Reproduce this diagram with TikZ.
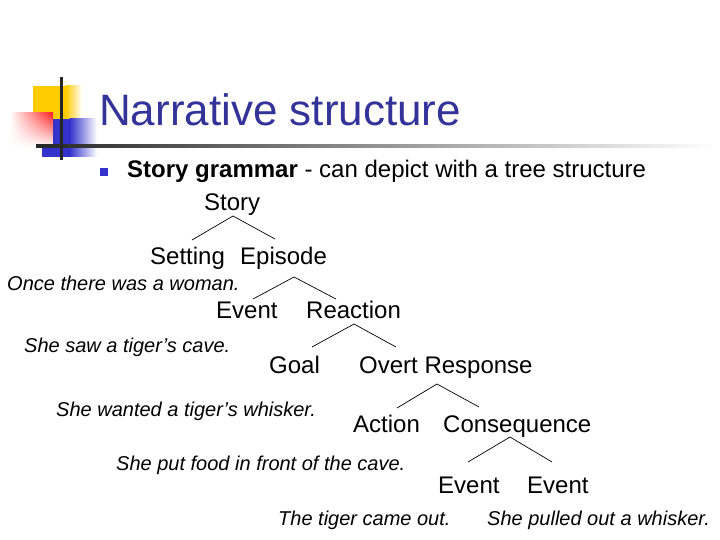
\documentclass[tikz,border=0pt]{standalone}
\usepackage{fontspec}
\setmainfont{Liberation Sans}
\usetikzlibrary{fadings}
\definecolor{titleblue}{HTML}{333399}
\definecolor{bulletblue}{HTML}{3333CC}
\definecolor{logoyellow}{HTML}{FFCC00}
\definecolor{logoblue}{HTML}{3333CC}
\definecolor{logored}{HTML}{FF2020}
\tikzset{
  lbl/.style={anchor=base west,inner sep=0pt,font=\fontsize{24}{28}\selectfont},
  sent/.style={anchor=base west,inner sep=0pt,font=\fontsize{20}{24}\selectfont\itshape},
  branch/.style={draw=black,line width=0.7pt}
}
\begin{document}
\begin{tikzpicture}[x=1pt,y=-1pt]
\useasboundingbox (0,0) rectangle (720,540);
% logo
\fill[logoyellow] (33,86) rectangle (66,120);
\shade[left color=logoyellow,right color=white] (65.5,86) rectangle (82,120);
\fill[logoblue] (42,119) rectangle (70,157);
\shade[left color=logoblue,right color=white] (69.5,119) rectangle (97,157);
\fill[white] (10,113) rectangle (53,147);
\shade[left color=white,right color=logored,path fading=south] (10,113) rectangle (53,147);
\shade[left color=black!85,right color=white] (36,144.5) rectangle (716,148);
\fill[black!85] (59.5,77) rectangle (62.5,160);
% title
\node[anchor=base west,inner sep=0pt,text=titleblue,font=\fontsize{44}{50}\selectfont] (title) at (99,126) {Narrative structure};
% bullet
\fill[bulletblue] (100,168) rectangle (108,176);
\node[anchor=base west,inner sep=0pt,font=\fontsize{24}{28}\selectfont] (bullet) at (127,178) {\textbf{Story grammar} - can depict with a tree structure};
% tree labels
\node[lbl] (story) at (204,211) {Story};
\node[lbl] (setting) at (150,264) {Setting};
\node[lbl] (episode) at (240,264) {Episode};
\node[lbl] (event1) at (216,318) {Event};
\node[lbl] (reaction) at (306,318) {Reaction};
\node[lbl] (goal) at (269,373) {Goal};
\node[lbl] (overt) at (359,373) {Overt Response};
\node[lbl] (action) at (353,432) {Action};
\node[lbl] (conseq) at (443,432) {Consequence};
\node[lbl] (event2) at (438,493) {Event};
\node[lbl] (event3) at (527,493) {Event};
% sentences
\node[sent] (s1) at (7,290) {Once there was a woman.};
\node[sent] (s2) at (24,352) {She saw a tiger’s cave.};
\node[sent] (s3) at (56,416) {She wanted a tiger’s whisker.};
\node[sent] (s4) at (116,470) {She put food in front of the cave.};
\node[sent] (s5) at (278,525) {The tiger came out.};
\node[sent] (s6) at (487,525) {She pulled out a whisker.};
% branch points
\coordinate (storyA) at (233,216);
\coordinate (storyL) at (192,240);
\coordinate (storyR) at (275,239);
\coordinate (episodeA) at (294,277);
\coordinate (episodeL) at (253,299);
\coordinate (episodeR) at (336,299);
\coordinate (reactionA) at (354,324);
\coordinate (reactionL) at (312,347);
\coordinate (reactionR) at (396,347);
\coordinate (overtA) at (437,384);
\coordinate (overtL) at (397,408);
\coordinate (overtR) at (479,407);
\coordinate (conseqA) at (510,437);
\coordinate (conseqL) at (468,462);
\coordinate (conseqR) at (552,462);
\draw[branch] (storyL) -- (storyA) -- (storyR);
\draw[branch] (episodeL) -- (episodeA) -- (episodeR);
\draw[branch] (reactionL) -- (reactionA) -- (reactionR);
\draw[branch] (overtL) -- (overtA) -- (overtR);
\draw[branch] (conseqL) -- (conseqA) -- (conseqR);
\end{tikzpicture}
\end{document}
